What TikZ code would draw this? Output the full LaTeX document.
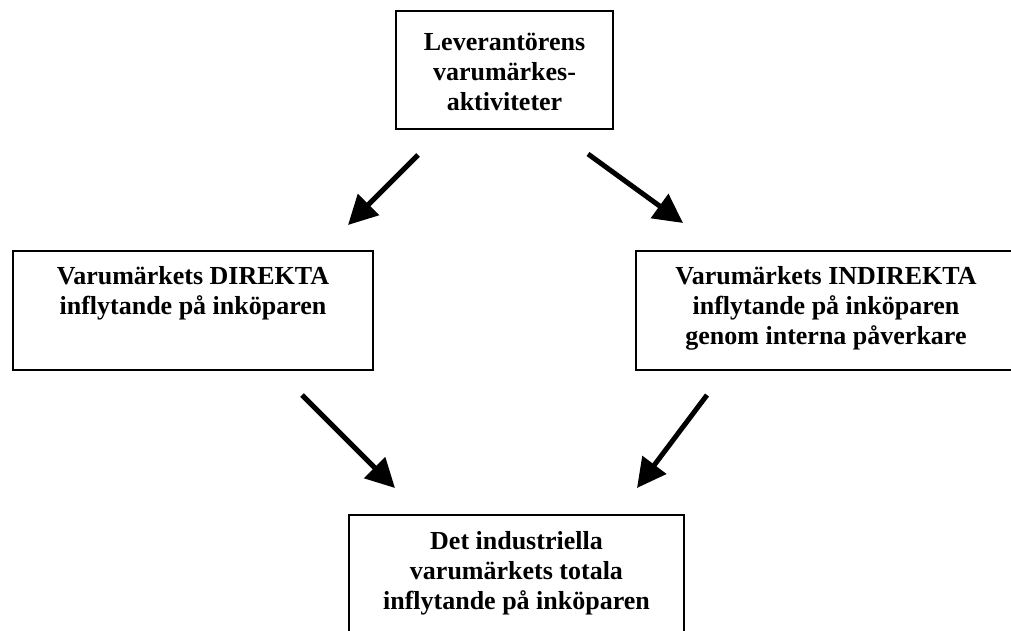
\documentclass[tikz,border=0pt]{standalone}
\usepackage{fontspec}
\setmainfont{Liberation Serif}
\usetikzlibrary{arrows.meta}
% box body: width, height, top padding, text (all in pt)
\newcommand{\bxtext}[4]{\parbox[c][#2pt][t]{#1pt}{\vspace*{#3pt}\centering #4\par}}

\begin{document}
\begin{tikzpicture}[x=1pt,y=-1pt,
  boxnode/.style={draw, line width=2pt, inner sep=0pt, anchor=north west,
    font=\fontsize{26pt}{30pt}\selectfont\bfseries},
  flow/.style={line width=5pt, -{Triangle[length=29pt,width=29pt]}}]
\clip (0,0) rectangle (1011,630);

\node[boxnode] (lev) at (395,10)
  {\bxtext{217}{118}{22}{Leverantörens\\varumärkes-\\aktiviteter}};
\node[boxnode] (dir) at (12,250)
  {\bxtext{360}{119}{15}{Varumärkets DIREKTA\\inflytande på inköparen}};
\node[boxnode] (ind) at (635,250)
  {\bxtext{380}{119}{15}{Varumärkets INDIREKTA\\inflytande på inköparen\\genom interna påverkare}};
\node[boxnode] (tot) at (348,514)
  {\bxtext{335}{140}{16}{Det industriella\\varumärkets totala\\inflytande på inköparen}};

% free arrow ends between the boxes
\coordinate (a1s) at (418,155); \coordinate (a1e) at (348,225);
\coordinate (a2s) at (588,154); \coordinate (a2e) at (683,223);
\coordinate (a3s) at (302,395); \coordinate (a3e) at (395,488);
\coordinate (a4s) at (707,395); \coordinate (a4e) at (637,488);

\draw[flow] (a1s) -- (a1e);
\draw[flow] (a2s) -- (a2e);
\draw[flow] (a3s) -- (a3e);
\draw[flow] (a4s) -- (a4e);
\end{tikzpicture}
\end{document}
